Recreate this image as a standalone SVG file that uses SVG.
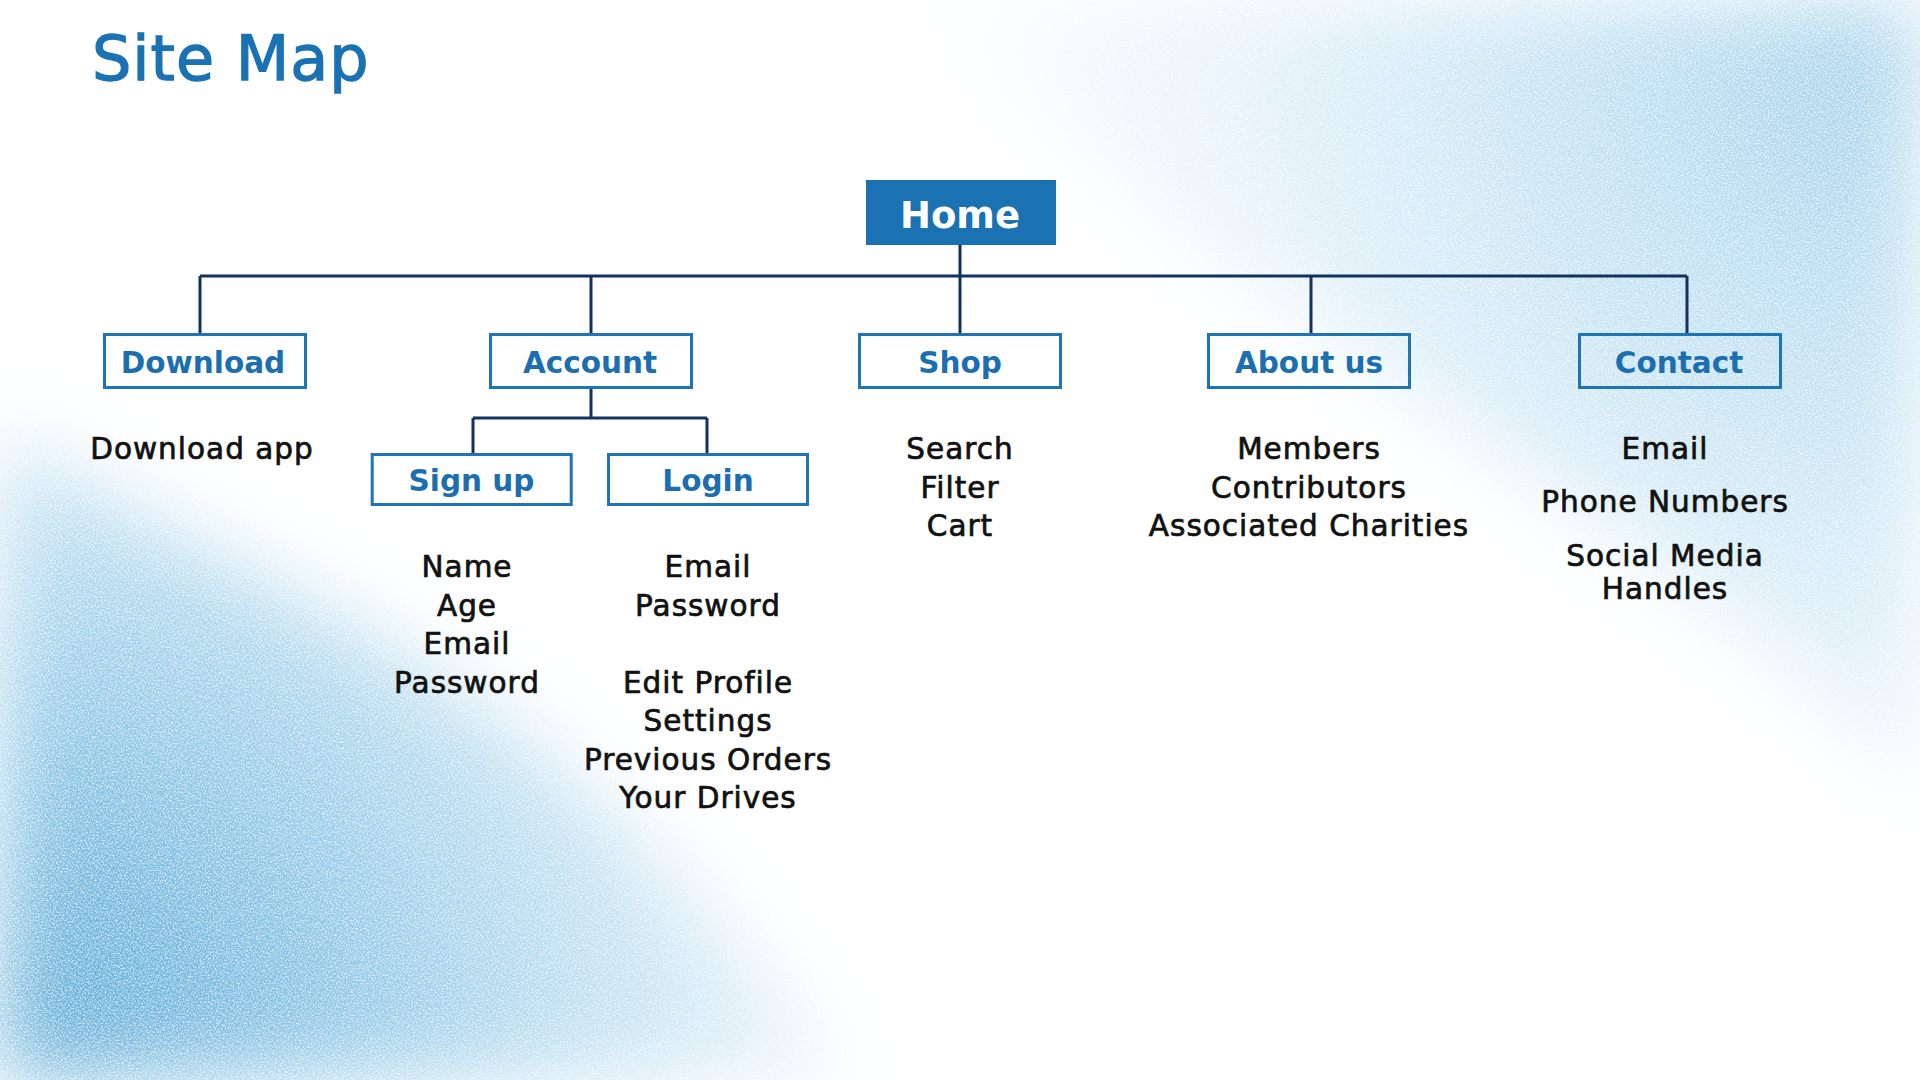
<svg xmlns="http://www.w3.org/2000/svg" width="1920" height="1080" viewBox="0 0 1920 1080">
<defs>
<style>
.box{fill:none;stroke:#1f74b6;stroke-width:3}
.lbl{font-family:"DejaVu Sans",sans-serif;font-weight:bold;font-size:29.5px;fill:#1b6fb0;text-anchor:middle}
.txt{font-family:"DejaVu Sans",sans-serif;font-size:29.5px;letter-spacing:1px;fill:#111;stroke:#111;stroke-width:0.7px;text-anchor:middle}
.conn{fill:none;stroke:#14325e;stroke-width:3}
</style>
<radialGradient id="gBL" cx="0" cy="1080" r="1000" gradientUnits="userSpaceOnUse">
<stop offset="0" stop-color="#4a9fd0"/>
<stop offset="0.3" stop-color="#7cbde2"/>
<stop offset="0.55" stop-color="#b2d9ee"/>
<stop offset="0.8" stop-color="#e2f1f9"/>
<stop offset="1" stop-color="#ffffff"/>
</radialGradient>
<radialGradient id="gTR" cx="1920" cy="40" r="1000" gradientUnits="userSpaceOnUse">
<stop offset="0" stop-color="#8fc6e5"/>
<stop offset="0.35" stop-color="#b6dcf0"/>
<stop offset="0.7" stop-color="#e2f1f9"/>
<stop offset="1" stop-color="#ffffff"/>
</radialGradient>
<filter id="soft" x="-10%" y="-10%" width="120%" height="120%">
<feGaussianBlur stdDeviation="40" result="b"/>
<feTurbulence type="fractalNoise" baseFrequency="0.6" numOctaves="3" seed="7" result="n"/>
<feColorMatrix in="n" type="matrix" values="0 0 0 0 0  0 0 0 0 0  0 0 0 0 0  1.8 0 0 0 -0.1" result="a"/>
<feComposite in="b" in2="a" operator="in" result="t"/>
<feMerge><feMergeNode in="t"/></feMerge>
</filter>
</defs>
<rect width="1920" height="1080" fill="#ffffff"/>
<g id="background">
<path d="M0,430 C150,530 400,630 540,750 C650,840 760,960 850,1080 L0,1080 Z" fill="url(#gBL)" filter="url(#soft)" opacity="0.95"/>
<path d="M935,0 L1920,0 L1920,800 C1800,640 1520,470 1280,300 C1120,190 1010,90 935,0 Z" fill="url(#gTR)" filter="url(#soft)" opacity="0.85"/>
</g>
<text id="title" x="92" y="80" font-family="DejaVu Sans, sans-serif" font-size="62" letter-spacing="1" fill="#1a72b3" stroke="#1a72b3" stroke-width="1.3">Site Map</text>
<g id="connectors">
<path class="conn" d="M960,245 V276 M200,276 H1687 M200,276 V335 M591,276 V335 M960,276 V335 M1311,276 V335 M1687,276 V335"/>
<path class="conn" d="M591,388 V418 M473,418 H707 M473,418 V454 M707,418 V454"/>
</g>
<g id="home">
<rect x="866" y="180" width="190" height="65" fill="#1a72b3"/>
<text x="960" y="228" font-family="DejaVu Sans, sans-serif" font-weight="bold" font-size="37" fill="#ffffff" text-anchor="middle">Home</text>
</g>
<g id="download">
<rect class="box" x="104.5" y="334.5" width="201" height="53"/>
<text class="lbl" x="203" y="372.5">Download</text>
<text class="txt" x="202" y="459">Download app</text>
</g>
<g id="account">
<rect class="box" x="490.5" y="334.5" width="201" height="53"/>
<text class="lbl" x="590" y="372.5">Account</text>
</g>
<g id="signup">
<rect class="box" x="372.2" y="454.5" width="199" height="50"/>
<text class="lbl" x="471.5" y="491">Sign up</text>
<text class="txt"><tspan x="467" y="577">Name</tspan><tspan x="467" y="615.5">Age</tspan><tspan x="467" y="654">Email</tspan><tspan x="467" y="692.5">Password</tspan></text>
</g>
<g id="login">
<rect class="box" x="608.5" y="454.5" width="199" height="50"/>
<text class="lbl" x="708" y="491">Login</text>
<text class="txt"><tspan x="708" y="577">Email</tspan><tspan x="708" y="615.5">Password</tspan><tspan x="708" y="692.5">Edit Profile</tspan><tspan x="708" y="731">Settings</tspan><tspan x="708" y="769.5">Previous Orders</tspan><tspan x="708" y="808">Your Drives</tspan></text>
</g>
<g id="shop">
<rect class="box" x="859.5" y="334.5" width="201" height="53"/>
<text class="lbl" x="960" y="372.5">Shop</text>
<text class="txt"><tspan x="960" y="459">Search</tspan><tspan x="960" y="497.5">Filter</tspan><tspan x="960" y="536">Cart</tspan></text>
</g>
<g id="about">
<rect class="box" x="1208.5" y="334.5" width="201" height="53"/>
<text class="lbl" x="1309" y="372.5">About us</text>
<text class="txt"><tspan x="1309" y="459">Members</tspan><tspan x="1309" y="497.5">Contributors</tspan><tspan x="1309" y="536">Associated Charities</tspan></text>
</g>
<g id="contact">
<rect class="box" x="1579.5" y="334.5" width="201" height="53"/>
<text class="lbl" x="1679" y="372.5">Contact</text>
<text class="txt"><tspan x="1665" y="459">Email</tspan><tspan x="1665" y="512">Phone Numbers</tspan><tspan x="1665" y="566">Social Media</tspan><tspan x="1665" y="599">Handles</tspan></text>
</g>
</svg>
